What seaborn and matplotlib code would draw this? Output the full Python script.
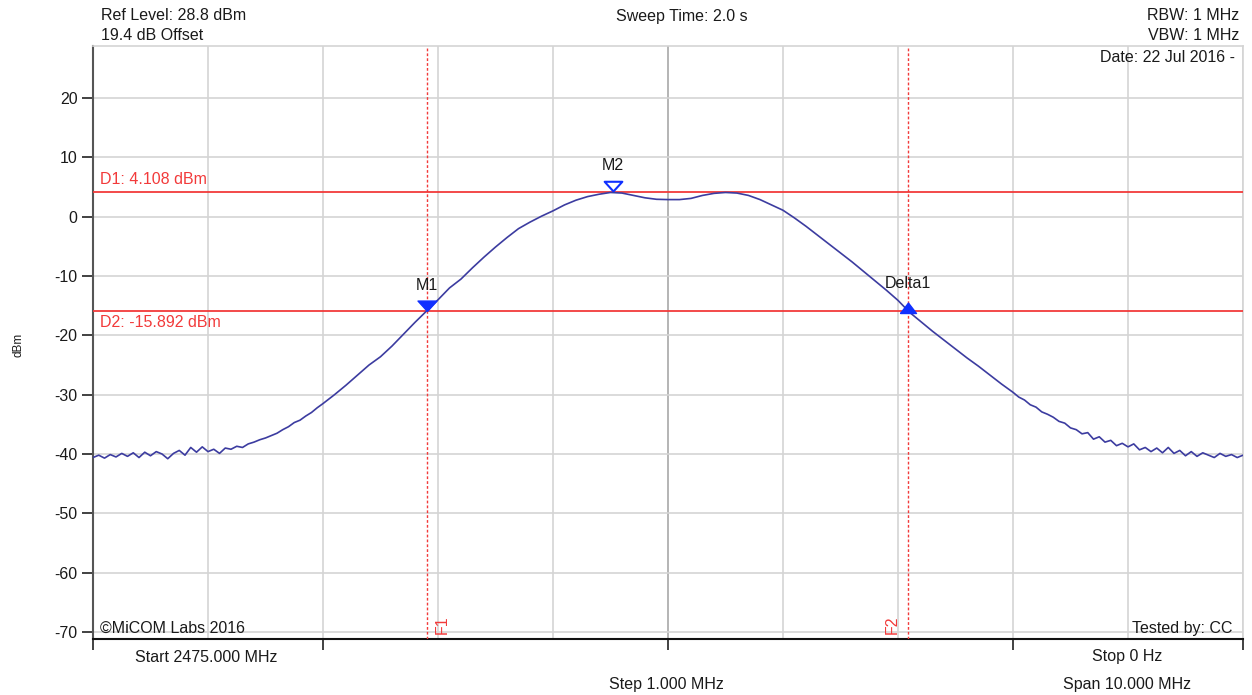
import matplotlib
matplotlib.use('Agg')
import matplotlib.pyplot as plt
import seaborn as sns
import pandas as pd

# sweep trace (MHz, dBm)
freq_mhz = [
    2475.00, 2475.05, 2475.10, 2475.15, 2475.20, 2475.25, 2475.30, 2475.35, 2475.40, 2475.45,
    2475.50, 2475.55, 2475.60, 2475.65, 2475.70, 2475.75, 2475.80, 2475.85, 2475.90, 2475.95,
    2476.00, 2476.05, 2476.10, 2476.15, 2476.20, 2476.25, 2476.30, 2476.35, 2476.40, 2476.45,
    2476.50, 2476.55, 2476.60, 2476.65, 2476.70, 2476.75, 2476.80, 2476.85, 2476.90, 2476.95,
    2477.00, 2477.10, 2477.20, 2477.30, 2477.40, 2477.50, 2477.60, 2477.70, 2477.80, 2477.90,
    2478.00, 2478.10, 2478.20, 2478.30, 2478.40, 2478.50, 2478.60, 2478.70, 2478.80, 2478.90,
    2479.00, 2479.10, 2479.20, 2479.30, 2479.40, 2479.50, 2479.60, 2479.70, 2479.80, 2479.90,
    2480.00, 2480.10, 2480.20, 2480.30, 2480.40, 2480.50, 2480.60, 2480.70, 2480.80, 2480.90,
    2481.00, 2481.10, 2481.20, 2481.30, 2481.40, 2481.50, 2481.60, 2481.70, 2481.80, 2481.90,
    2482.00, 2482.10, 2482.20, 2482.30, 2482.40, 2482.50, 2482.60, 2482.70, 2482.80, 2482.90,
    2483.00, 2483.05, 2483.10, 2483.15, 2483.20, 2483.25, 2483.30, 2483.35, 2483.40, 2483.45,
    2483.50, 2483.55, 2483.60, 2483.65, 2483.70, 2483.75, 2483.80, 2483.85, 2483.90, 2483.95,
    2484.00, 2484.05, 2484.10, 2484.15, 2484.20, 2484.25, 2484.30, 2484.35, 2484.40, 2484.45,
    2484.50, 2484.55, 2484.60, 2484.65, 2484.70, 2484.75, 2484.80, 2484.85, 2484.90, 2484.95,
    2485.00,
]
level_dbm = [
    -40.6, -40.2, -40.7, -40.1, -40.5, -39.9, -40.4, -39.8, -40.6, -39.7,
    -40.3, -39.6, -40.0, -40.8, -39.9, -39.4, -40.2, -38.9, -39.7, -38.8,
    -39.6, -39.2, -39.9, -39.0, -39.2, -38.7, -38.9, -38.3, -38.0, -37.6,
    -37.3, -36.9, -36.5, -35.9, -35.4, -34.7, -34.3, -33.6, -33.0, -32.2,
    -31.5, -30.0, -28.4, -26.7, -25.0, -23.6, -21.8, -19.8, -17.8, -15.9,
    -14.0, -12.0, -10.5, -8.6, -6.8, -5.1, -3.5, -2.0, -0.9, 0.1,
    1.0, 2.0, 2.8, 3.4, 3.8, 4.1, 4.0, 3.6, 3.2, 2.95,
    2.9, 2.9, 3.1, 3.6, 3.95, 4.1, 4.0, 3.6, 2.9, 2.0,
    1.1, -0.2, -1.6, -3.1, -4.6, -6.1, -7.6, -9.2, -10.8, -12.4,
    -14.1, -16.1, -17.7, -19.3, -20.8, -22.3, -23.8, -25.2, -26.7, -28.2,
    -29.6, -30.4, -30.9, -31.7, -32.1, -32.9, -33.3, -33.8, -34.5, -34.8,
    -35.6, -35.9, -36.6, -36.4, -37.5, -37.1, -38.0, -37.7, -38.6, -38.2,
    -38.8, -38.3, -39.3, -38.9, -39.6, -39.0, -39.8, -38.9, -39.9, -39.4,
    -40.3, -39.6, -40.4, -39.8, -40.2, -40.6, -39.9, -40.4, -40.1, -40.6,
    -40.2,
]

# marker / display line settings
d1_level = 4.108
d2_level = -15.892
f1_mhz = 2477.904
f2_mhz = 2482.087
m2_mhz = 2479.52

start_mhz = 2475.0
stop_mhz = 2485.0
ref_level = 28.8
y_ticks = [-70, -60, -50, -40, -30, -20, -10, 0, 10, 20]

W, H = 1252, 695
sns.set_style('white')
plt.rcParams['font.family'] = ['Liberation Sans', 'DejaVu Sans']
txt = '#1a1a1a'
red = '#f23a3a'
fs = 11.5

fig = plt.figure(figsize=(W / 100, H / 100), dpi=100)
ax = fig.add_axes([93 / W, 1 - 639 / H, (1243 - 93) / W, (639 - 46) / H])

df = pd.DataFrame({'freq': freq_mhz, 'level': level_dbm})
sns.lineplot(data=df, x='freq', y='level', ax=ax, color='#3c3ca0', lw=1.2, zorder=4)

ax.set_xlim(start_mhz, stop_mhz)
ax.set_ylim(ref_level - 100, ref_level)

# grid: every division, centre line darker
ax.set_xticks([start_mhz + i for i in range(11)])
ax.set_yticks(y_ticks)
ax.grid(True, color='#d4d4d4', lw=1.2, zorder=0)
ax.get_xgridlines()[5].set_color('#a8a8a8')
ax.tick_params(axis='x', which='major', length=0, labelbottom=False)
ax.xaxis.remove_overlapping_locs = False
ax.set_xticks([2475, 2477, 2480, 2483, 2485], minor=True)
ax.tick_params(axis='x', which='minor', bottom=True, length=8, width=1.3, color='#333333')
ax.tick_params(axis='y', left=True, length=8, width=1.3, color='#333333', labelsize=fs,
               labelcolor=txt, pad=3)
ax.set_yticklabels([str(v) for v in y_ticks])
ax.set_xlabel('')
ax.set_ylabel('')
for side in ['top', 'right']:
    ax.spines[side].set_color('#d4d4d4')
    ax.spines[side].set_linewidth(1.2)
ax.spines['left'].set_color('#555555')
ax.spines['left'].set_linewidth(1.5)
ax.spines['bottom'].set_color('#111111')
ax.spines['bottom'].set_linewidth(1.5)

# display lines and frequency lines
ax.axhline(d1_level, color=red, lw=1.3, zorder=3)
ax.axhline(d2_level, color=red, lw=1.3, zorder=3)
ax.axvline(f1_mhz, color=red, lw=1.0, ls=(0, (2, 1.5)), zorder=3)
ax.axvline(f2_mhz, color=red, lw=1.0, ls=(0, (2, 1.5)), zorder=3)
ax.text(2475.06, d1_level + 0.9, 'D1: 4.108 dBm', color=red, fontsize=fs, va='bottom')
ax.text(2475.06, d2_level - 0.7, 'D2: -15.892 dBm', color=red, fontsize=fs, va='top')
ax.text(f1_mhz + 0.07, -70.3, 'F1', color=red, fontsize=fs, rotation=90, va='bottom', ha='left')
ax.text(f2_mhz - 0.07, -70.3, 'F2', color=red, fontsize=fs, rotation=90, va='bottom', ha='right')

# markers: apex of the triangle sits on the trace
down_tri = [(0, 0), (-1.0, 1.1), (1.0, 1.1), (0, 0)]
up_tri = [(-1.0, 0), (1.0, 0), (0, 1.3), (-1.0, 0)]
ax.plot([f1_mhz], [d2_level], marker=down_tri, ms=15, color='#1030ff', mec='#1030ff', zorder=6)
ax.plot([m2_mhz], [d1_level + 0.3], marker=down_tri, ms=14, mfc='white', mec='#1030ff',
        mew=1.5, zorder=6)
ax.plot([f2_mhz], [d2_level - 0.3], marker=up_tri, ms=15, color='#1030ff', mec='#1030ff', zorder=6)
ax.text(f1_mhz, d2_level + 3.0, 'M1', color=txt, fontsize=fs, ha='center', va='bottom')
ax.text(m2_mhz, d1_level + 3.2, 'M2', color=txt, fontsize=fs, ha='center', va='bottom')
ax.text(f2_mhz, d2_level + 3.4, 'Delta1', color=txt, fontsize=fs, ha='center', va='bottom')

# instrument annotations
def ftext(x, y, s, ha='left', **kw):
    fig.text(x / W, 1 - y / H, s, ha=ha, va='center', color=txt, fontsize=fs, **kw)

ftext(101, 16, 'Ref Level: 28.8 dBm')
ftext(101, 36, '19.4 dB Offset')
ftext(682, 16, 'Sweep Time: 2.0 s', ha='center')
ftext(1239, 16, 'RBW: 1 MHz', ha='right')
ftext(1239, 36, 'VBW: 1 MHz', ha='right')
ftext(1235, 57, 'Date: 22 Jul 2016 -', ha='right')
ftext(100, 628, '\u00a9MiCOM Labs 2016')
ftext(1233, 628, 'Tested by: CC', ha='right')
ftext(206, 657, 'Start 2475.000 MHz', ha='center')
ftext(1127, 657, 'Stop 0 Hz', ha='center')
ftext(666, 685, 'Step 1.000 MHz', ha='center')
ftext(1127, 685, 'Span 10.000 MHz', ha='center')
fig.text(18 / W, 1 - 345 / H, 'dBm', rotation=90, ha='center', va='center',
         color=txt, fontsize=8.5)

fig.savefig('out.png', dpi=100)
plt.close(fig)
